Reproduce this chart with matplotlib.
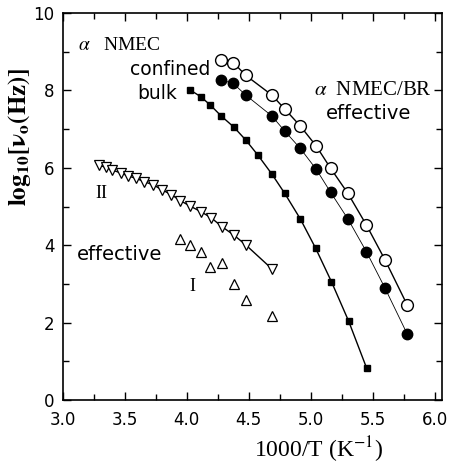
import matplotlib
matplotlib.use("Agg")
import matplotlib.pyplot as plt
from matplotlib.ticker import MultipleLocator

plt.rcParams['mathtext.fontset'] = 'stix'
plt.rcParams['font.family'] = ['DejaVu Sans']

# alpha NMEC/BR effective (open circles) and alpha NMEC confined (filled circles)
x_circ = [4.277, 4.375, 4.475, 4.686, 4.79, 4.916, 5.045, 5.16, 5.30, 5.45, 5.60, 5.78]
y_open = [8.79, 8.72, 8.39, 7.88, 7.52, 7.08, 6.56, 5.99, 5.34, 4.52, 3.62, 2.45]
y_fill = [8.27, 8.18, 7.88, 7.34, 6.95, 6.50, 5.96, 5.37, 4.68, 3.83, 2.89, 1.70]

# alpha NMEC bulk (filled squares)
x_bulk = [4.027, 4.111, 4.19, 4.277, 4.38, 4.475, 4.573, 4.686, 4.79, 4.916, 5.04, 5.167, 5.306, 5.452]
y_bulk = [8.01, 7.84, 7.62, 7.34, 7.05, 6.72, 6.33, 5.84, 5.34, 4.68, 3.92, 3.06, 2.04, 0.82]

# effective II (down triangles)
x_II = [3.293, 3.346, 3.398, 3.465, 3.525, 3.588, 3.657, 3.728, 3.80, 3.873, 3.948, 4.027,
        4.111, 4.196, 4.283, 4.38, 4.475, 4.686]
y_II = [6.07, 6.01, 5.94, 5.87, 5.79, 5.73, 5.64, 5.56, 5.43, 5.31, 5.15, 5.01,
        4.87, 4.71, 4.48, 4.26, 4.01, 3.39]

# effective I (up triangles)
x_I = [3.948, 4.027, 4.111, 4.19, 4.283, 4.38, 4.475, 4.686]
y_I = [4.15, 4.01, 3.83, 3.43, 3.53, 3.01, 2.58, 2.18]

fig = plt.figure(figsize=(4.54, 4.70), dpi=100)
ax = fig.add_axes([63/454, 1-400/470, (442-63)/454, (400-13)/470])

ax.plot(x_bulk, y_bulk, '-', color='black', lw=1.0, marker='s', ms=4.5,
        mfc='black', mec='black')
ax.plot(x_circ, y_fill, '-', color='black', lw=0.6, marker='o', ms=7.5,
        mfc='black', mec='black')
ax.plot(x_circ, y_open, '-', color='black', lw=1.0, marker='o', ms=8.5,
        mfc='white', mec='black', mew=1.0)
ax.plot(x_II, y_II, '-', color='black', lw=1.0, marker='v', ms=7.5,
        mfc='white', mec='black', mew=0.9)
ax.plot(x_I, y_I, marker='^', ms=7.5, mfc='white', mec='black', mew=0.9,
        linestyle='none')

ax.set_xlim(3.0, 6.06)
ax.set_ylim(0, 10)
ax.xaxis.set_major_locator(MultipleLocator(0.5))
ax.xaxis.set_minor_locator(MultipleLocator(0.25))
ax.yaxis.set_major_locator(MultipleLocator(2))
ax.yaxis.set_minor_locator(MultipleLocator(1))
ax.tick_params(which='both', direction='in', top=True, right=True, labelsize=12,
               width=1.0)
ax.tick_params(axis='x', which='major', pad=8)
ax.tick_params(axis='y', which='major', pad=6)
ax.tick_params(which='major', length=6)
ax.tick_params(which='minor', length=4)
ax.set_xticklabels([f"{v:.1f}" for v in ax.get_xticks()])
for s in ax.spines.values():
    s.set_linewidth(1.2)

serif = ['Liberation Serif', 'DejaVu Serif']
ax.text(3.12, 9.17, r'$\alpha$   NMEC', fontsize=14, family=serif, va='center')
ax.text(4.19, 8.55, 'confined', fontsize=13.5, ha='right', va='center')
ax.text(3.92, 7.93, 'bulk', fontsize=13.5, ha='right', va='center')
ax.text(5.98, 8.01, r'$\alpha$  NMEC/BR', fontsize=15, family=serif, ha='right', va='center')
ax.text(5.47, 7.41, 'effective', fontsize=14, ha='center', va='center')
ax.text(3.31, 5.34, 'II', fontsize=13, family=serif, ha='center', va='center')
ax.text(3.108, 3.75, 'effective', fontsize=14, ha='left', va='center')
ax.text(4.045, 2.93, 'I', fontsize=13, family=serif, ha='center', va='center')

ax.set_xlabel(r'1000/T (K$^{-1}$)', fontsize=17, family=serif)
ax.xaxis.set_label_coords(0.675, -0.09)
ax.set_ylabel(r'$\mathbf{log_{10}[\nu_o(Hz)]}$', fontsize=18)
ax.yaxis.set_label_coords(-0.08, 0.68)

fig.savefig('out.png', dpi=100)
